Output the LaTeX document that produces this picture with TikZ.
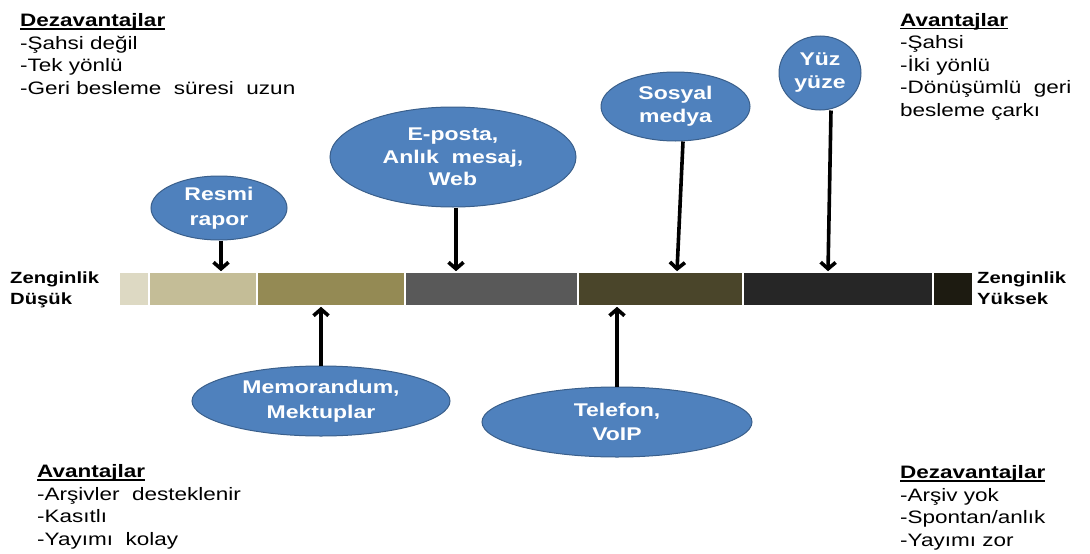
\documentclass[tikz,border=0pt]{standalone}
\usepackage{fontspec}
\usetikzlibrary{shapes.geometric,arrows.meta}
\newfontfamily\txtfont[FakeStretch=1.25]{Liberation Sans}
\definecolor{ellfill}{HTML}{4F81BD}
\definecolor{elledge}{HTML}{3A5F8B}
\definecolor{tanA}{HTML}{DDD9C3}
\definecolor{tanB}{HTML}{C4BD97}
\definecolor{tanC}{HTML}{948A54}
\definecolor{greyD}{HTML}{595959}
\definecolor{brownE}{HTML}{4A452A}
\definecolor{darkF}{HTML}{262626}
\definecolor{darkG}{HTML}{1D1B11}
% underline that sits just below the baseline
\newcommand\ulbox[1]{\setbox0\hbox{#1}\rlap{\rule[-3.2pt]{\wd0}{1.5pt}}\box0}
\begin{document}
\begin{tikzpicture}[x=1pt,y=-1pt,
  notes/.style={anchor=base west,align=left,inner sep=0pt,
    font=\txtfont\fontsize{18}{22.5}\selectfont},
  endlabel/.style={anchor=base west,align=left,inner sep=0pt,
    font=\txtfont\bfseries\fontsize{16.2}{21}\selectfont},
  medium/.style={ellipse,fill=ellfill,draw=elledge,line width=1pt,inner sep=0pt,
    align=center,text=white,font=\txtfont\bfseries\fontsize{18.4}{24.5}\selectfont},
  seg/.style={rectangle,draw=white,line width=1.6pt,inner sep=0pt,
    minimum height=34pt,anchor=west},
  arr/.style={line width=3.6pt,-{Straight Barb[length=6.5pt,width=15pt]}}]
\useasboundingbox (0,0) rectangle (1090,554);

% richness bar, low to high
\node[seg,fill=tanA,minimum width=30pt]  (s1) at (118,289) {};
\node[seg,fill=tanB,minimum width=108pt] (s2) at (148,289) {};
\node[seg,fill=tanC,minimum width=148pt] (s3) at (256,289) {};
\node[seg,fill=greyD,minimum width=173pt] (s4) at (404,289) {};
\node[seg,fill=brownE,minimum width=165pt] (s5) at (577,289) {};
\node[seg,fill=darkF,minimum width=190pt] (s6) at (742,289) {};
\node[seg,fill=darkG,minimum width=40pt]  (s7) at (932,289) {};

% labels at both ends (anchored on the last line's baseline)
\node[endlabel] (low) at (10,304) {Zenginlik\\Düşük};
\node[endlabel] (high) at (977,304) {Zenginlik\\Yüksek};

% media above the bar
\node[medium,minimum width=136pt,minimum height=64pt] (rapor) at (219,208) {Resmi\\rapor};
\node[medium,minimum width=246pt,minimum height=100pt,
      font=\txtfont\bfseries\fontsize{18.4}{22.5}\selectfont] (eposta) at (453,157) {E-posta,\\Anlık\ \ mesaj,\\Web};
\node[medium,minimum width=149pt,minimum height=69pt,
      font=\txtfont\bfseries\fontsize{18.4}{23}\selectfont] (sosyal) at (675.5,106.5) {Sosyal\\medya};
\node[medium,minimum width=82pt,minimum height=74pt,
      font=\txtfont\bfseries\fontsize{18.4}{23}\selectfont] (yuz) at (820,73) {Yüz\\yüze};

% media below the bar
\node[medium,minimum width=258pt,minimum height=70pt] (memo) at (321,401) {Memorandum,\\Mektuplar};
\node[medium,minimum width=270pt,minimum height=70pt] (tel) at (617,422) {Telefon,\\VoIP};

% arrows onto the bar
\draw[arr] ([xshift=2pt]rapor.south) -- ([xshift=2pt]rapor.south |- s2.north);
\draw[arr] ([xshift=3pt]eposta.south) -- ([xshift=3pt]eposta.south |- s4.north);
\draw[arr] ([xshift=7.5pt]sosyal.south) -- ([xshift=1.5pt]sosyal.south |- s5.north);
\draw[arr] ([xshift=11pt]yuz.south) -- ([xshift=8pt]yuz.south |- s6.north);
\draw[arr] (memo.north) -- (memo.north |- s3.south);
\draw[arr] (tel.north) -- (tel.north |- s5.south);

% pros and cons (anchored on the last line's baseline)
\node[notes] (dezlow) at (20,94) {\ulbox{\bfseries Dezavantajlar}\\-Şahsi değil\\-Tek yönlü\\-Geri\ besleme\ \ süresi\ \ uzun};
\node[notes] (avhigh) at (900,116) {\ulbox{\bfseries Avantajlar}\\-Şahsi\\-İki yönlü\\-Dönüşümlü\ \ geri\\besleme çarkı};
\node[notes] (avlow) at (37,545) {\ulbox{\bfseries Avantajlar}\\-Arşivler\ \ desteklenir\\-Kasıtlı\\-Yayımı\ \ kolay};
\node[notes] (dezhigh) at (900,546) {\ulbox{\bfseries Dezavantajlar}\\-Arşiv yok\\-Spontan/anlık\\-Yayımı zor};
\end{tikzpicture}
\end{document}
